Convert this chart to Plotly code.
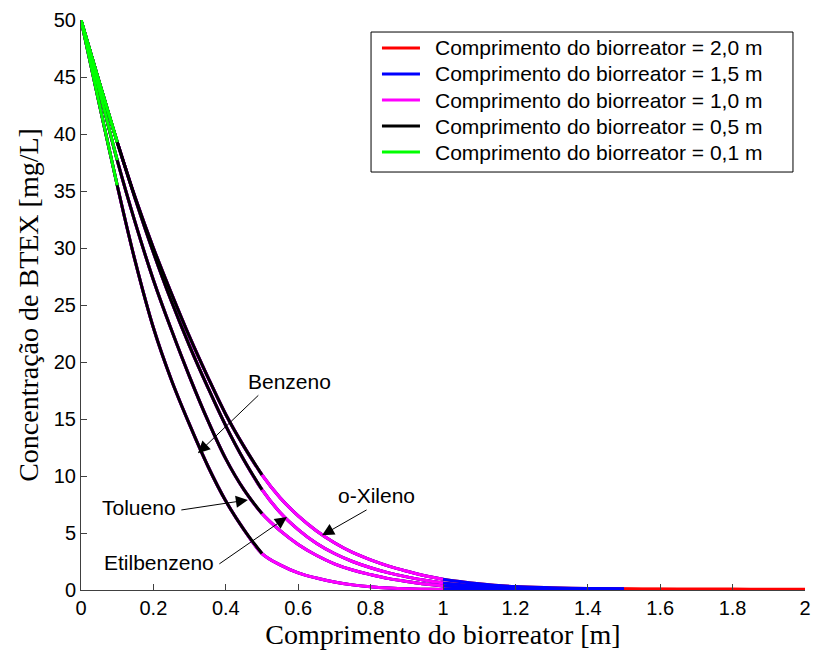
import plotly.graph_objects as go

# Axial position along the bioreactor [m]
x_pos = [0.0, 0.05, 0.1, 0.15, 0.2, 0.25, 0.3, 0.35, 0.4, 0.45, 0.5,
         0.55, 0.6, 0.65, 0.7, 0.75, 0.8, 0.85, 0.9, 0.95, 1.0,
         1.1, 1.2, 1.3, 1.4, 1.5, 1.6, 1.7, 1.8, 1.9, 2.0]

# Concentration profiles [mg/L]
benzeno = [50, 42.7, 35.5, 28.8, 23.0, 18.4, 14.5, 10.9, 7.8, 5.3, 3.2,
           2.2, 1.5, 1.05, 0.7, 0.45, 0.28, 0.17, 0.1, 0.07, 0.05,
           0.04, 0.03, 0.03, 0.02, 0.02, 0.02, 0.02, 0.02, 0.02, 0.02]
tolueno = [50, 43.9, 37.7, 32.2, 27.2, 22.8, 18.7, 14.9, 11.5, 8.8, 6.7,
           5.2, 4.0, 3.05, 2.3, 1.75, 1.35, 1.0, 0.75, 0.52, 0.36,
           0.22, 0.15, 0.1, 0.08, 0.06, 0.05, 0.04, 0.04, 0.03, 0.03]
etilbenzeno = [50, 44.6, 39.3, 34.3, 29.6, 25.3, 21.4, 17.8, 14.4, 11.4, 8.8,
               6.8, 5.3, 4.1, 3.2, 2.5, 1.95, 1.5, 1.15, 0.85, 0.62,
               0.35, 0.2, 0.13, 0.1, 0.07, 0.06, 0.05, 0.05, 0.04, 0.04]
o_xileno = [50, 44.6, 39.3, 34.4, 30.0, 26.0, 22.2, 18.7, 15.4, 12.6, 10.1,
            8.1, 6.5, 5.2, 4.15, 3.3, 2.65, 2.1, 1.65, 1.25, 0.95,
            0.55, 0.3, 0.2, 0.14, 0.1, 0.09, 0.08, 0.08, 0.07, 0.07]

compounds = [benzeno, tolueno, etilbenzeno, o_xileno]

# Simulated bioreactor lengths, drawn longest first so shorter runs sit on top
lengths = [2.0, 1.5, 1.0, 0.5, 0.1]
length_labels = ["2,0", "1,5", "1,0", "0,5", "0,1"]
length_colors = ["#FF0000", "#0000FF", "#FF00FF", "#000000", "#00FF00"]

x_ticks = [0, 0.2, 0.4, 0.6, 0.8, 1.0, 1.2, 1.4, 1.6, 1.8, 2.0]
x_ticktext = ["0", "0.2", "0.4", "0.6", "0.8", "1", "1.2", "1.4", "1.6", "1.8", "2"]
y_ticks = [0, 5, 10, 15, 20, 25, 30, 35, 40, 45, 50]

SANS = "Liberation Sans, Arial, sans-serif"
SERIF = "Liberation Serif, Times New Roman, serif"

fig = go.Figure()

for L, lab, col in zip(lengths, length_labels, length_colors):
    xs, ys = [], []
    for conc in compounds:
        for xv, cv in zip(x_pos, conc):
            if xv <= L + 1e-9:
                xs.append(xv)
                ys.append(cv)
        xs.append(None)
        ys.append(None)
    fig.add_trace(go.Scatter(
        x=xs, y=ys, mode="lines",
        line=dict(color=col, width=3, shape="spline", smoothing=1.0),
        name=f"Comprimento do biorreator = {lab} m",
        showlegend=False,
    ))

# Compound labels: (text, text centre x/y, arrow tail x/y, arrow head x/y) in data units
ann_font = dict(family=SANS, size=21, color="black")
compound_labels = [
    ("Benzeno", 0.575, 18.25, 0.494, 17.2, 0.323, 12.0),
    ("Tolueno", 0.160, 7.2, 0.273, 7.0, 0.461, 7.9),
    ("Etilbenzeno", 0.215, 2.45, 0.378, 2.2, 0.569, 6.4),
    ("o-Xileno", 0.815, 8.33, 0.793, 7.1, 0.666, 4.8),
]
for txt, tx, ty, ax0, ay0, hx, hy in compound_labels:
    fig.add_annotation(x=tx, y=ty, xref="x", yref="y", text=txt,
                       showarrow=False, font=ann_font)
    fig.add_annotation(
        x=hx, y=hy, xref="x", yref="y", ax=ax0, ay=ay0, axref="x", ayref="y",
        text="", showarrow=True, arrowhead=2, arrowsize=2.4, arrowwidth=1,
        arrowcolor="black", standoff=0, startstandoff=0,
    )

# Legend box drawn in paper coordinates
box = dict(x0=0.4006, x1=0.9834, y0=0.7333, y1=0.9789)
fig.add_shape(type="rect", xref="paper", yref="paper", **box,
              line=dict(color="black", width=1), fillcolor="white", layer="above")
entry_y = [0.9509, 0.9053, 0.8596, 0.8140, 0.7684]
for yy, lab, col in zip(entry_y, length_labels, length_colors):
    fig.add_shape(type="line", xref="paper", yref="paper",
                  x0=0.4157, x1=0.4682, y0=yy, y1=yy,
                  line=dict(color=col, width=3), layer="above")
    fig.add_annotation(x=0.4862, y=yy, xref="paper", yref="paper",
                       xanchor="left", yanchor="middle", showarrow=False,
                       text=f"Comprimento do biorreator = {lab} m",
                       font=dict(family=SANS, size=21, color="black"))

tick_font = dict(family=SANS, size=20, color="black")
label_font = dict(family=SERIF, size=28, color="black")

fig.update_xaxes(
    range=[0, 2], tickvals=x_ticks, ticktext=x_ticktext,
    showline=True, linecolor="#404040", linewidth=1,
    ticks="inside", ticklen=6, tickcolor="#404040",
    showgrid=False, zeroline=False, tickfont=tick_font,
    title=dict(text="Comprimento do biorreator [m]", font=label_font, standoff=6),
)
fig.update_yaxes(
    range=[0, 50], tickvals=y_ticks,
    showline=True, linecolor="#404040", linewidth=1,
    ticks="inside", ticklen=6, tickcolor="#404040",
    showgrid=False, zeroline=False, tickfont=tick_font,
    title=dict(text="Concentração de BTEX [mg/L]", font=label_font, standoff=6),
)

fig.update_layout(
    width=813, height=657,
    margin=dict(l=81, r=8, t=20, b=67, autoexpand=False),
    plot_bgcolor="white", paper_bgcolor="white",
    showlegend=False,
)

fig.write_html("out.html")
